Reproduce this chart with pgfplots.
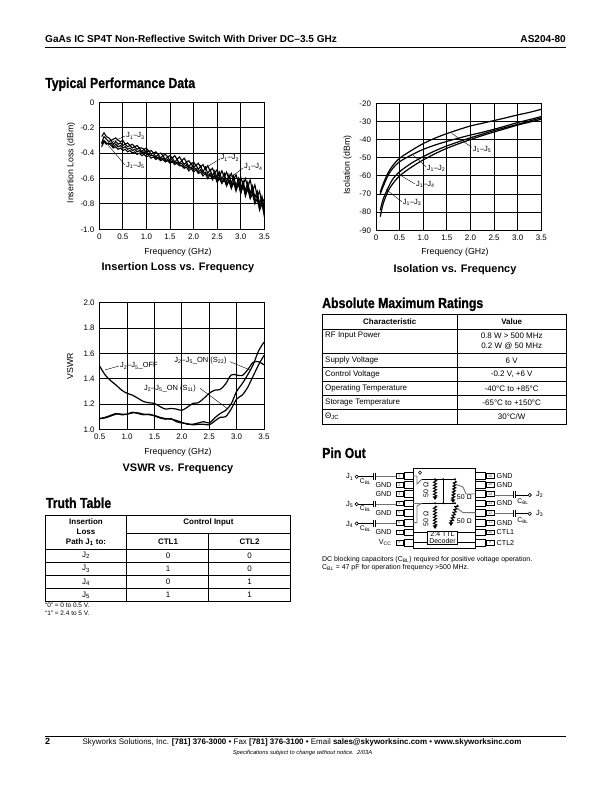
\documentclass[border=0pt]{standalone}
\usepackage{fontspec}
\usepackage{pgfplots}
\pgfplotsset{compat=1.18}
\usetikzlibrary{decorations.pathmorphing,arrows.meta}
\setmainfont{Liberation Sans}
\newfontfamily\headfont[FakeStretch=0.85,BoldFeatures={FakeBold=0.9}]{Liberation Sans}
\newcommand{\J}[2]{J\textsubscript{#1}--J\textsubscript{#2}}
\newcommand{\sz}[1]{\fontsize{#1}{#1}\selectfont}
\newcommand{\sub}[1]{\textsubscript{#1}}
\pgfplotsset{docaxis/.style={
  scale only axis, anchor=south west,
  axis line style={line width=1bp}, grid=major,
  grid style={black,line width=1bp},
  major tick length=0pt,
  tick label style={font=\sz{8}},
  xticklabel style={yshift=-1.5bp},
  yticklabel style={xshift=-1.5bp},
  axis on top=false,
  every axis plot/.append style={black,no markers},
}}
\begin{document}
\begin{tikzpicture}
\path[use as bounding box,fill=white] (0,0) rectangle (612bp,792bp);

% ---------- Insertion loss
\begin{axis}[docaxis, at={(99.3bp,562.7bp)}, width=165bp, height=127bp,
  xmin=0,xmax=3.5,ymin=-1,ymax=0,
  xtick={0,0.5,1,1.5,2,2.5,3,3.5}, xticklabels={0,0.5,1.0,1.5,2.0,2.5,3.0,3.5},
  ytick={-1,-0.8,-0.6,-0.4,-0.2,0}, yticklabels={-1.0,-0.8,-0.6,-0.4,-0.2,0}]
\addplot[line width=1.1bp] coordinates {(.05,-.27)(.1,-.24)(.15,-.27)(.2,-.28)(.25,-.30)(.3,-.29)(.35,-.28)(.4,-.30)(.45,-.31)(.5,-.30)(.55,-.33)(.6,-.32)(.65,-.34)(.7,-.33)(.75,-.35)(.8,-.34)(.85,-.36)(.9,-.36)(.95,-.37)(1.0,-.36)(1.05,-.39)(1.1,-.38)(1.15,-.40)(1.2,-.39)(1.25,-.41)(1.3,-.40)(1.35,-.42)(1.4,-.41)(1.45,-.43)(1.5,-.42)(1.55,-.44)(1.6,-.42)(1.65,-.45)(1.7,-.43)(1.75,-.46)(1.8,-.44)(1.85,-.47)(1.9,-.46)(1.95,-.49)(2.0,-.47)(2.05,-.50)(2.1,-.48)(2.15,-.51)(2.2,-.49)(2.25,-.53)(2.3,-.50)(2.35,-.54)(2.4,-.52)(2.45,-.56)(2.5,-.53)(2.55,-.58)(2.6,-.54)(2.65,-.59)(2.7,-.55)(2.75,-.60)(2.8,-.56)(2.85,-.61)(2.9,-.57)(2.95,-.63)(3.0,-.59)(3.05,-.65)(3.1,-.60)(3.15,-.67)(3.2,-.61)(3.25,-.70)(3.3,-.65)(3.35,-.74)(3.4,-.70)(3.45,-.80)(3.5,-.76)};
\addplot[line width=1.1bp] coordinates {(.05,-.32)(.1,-.27)(.15,-.29)(.2,-.31)(.25,-.30)(.3,-.33)(.35,-.31)(.4,-.33)(.45,-.32)(.5,-.34)(.55,-.33)(.6,-.35)(.65,-.34)(.7,-.36)(.75,-.35)(.8,-.37)(.85,-.36)(.9,-.39)(.95,-.37)(1.0,-.40)(1.05,-.38)(1.1,-.41)(1.15,-.40)(1.2,-.43)(1.25,-.41)(1.3,-.44)(1.35,-.42)(1.4,-.45)(1.45,-.43)(1.5,-.46)(1.55,-.44)(1.6,-.47)(1.65,-.45)(1.7,-.48)(1.75,-.46)(1.8,-.49)(1.85,-.47)(1.9,-.51)(1.95,-.48)(2.0,-.52)(2.05,-.49)(2.1,-.53)(2.15,-.50)(2.2,-.55)(2.25,-.51)(2.3,-.56)(2.35,-.53)(2.4,-.58)(2.45,-.54)(2.5,-.60)(2.55,-.55)(2.6,-.61)(2.65,-.56)(2.7,-.63)(2.75,-.57)(2.8,-.64)(2.85,-.58)(2.9,-.66)(2.95,-.60)(3.0,-.68)(3.05,-.62)(3.1,-.70)(3.15,-.63)(3.2,-.72)(3.25,-.66)(3.3,-.75)(3.35,-.70)(3.4,-.80)(3.45,-.74)(3.5,-.85)};
\addplot[line width=1.1bp] coordinates {(.05,-.33)(.1,-.30)(.15,-.32)(.2,-.33)(.25,-.32)(.3,-.35)(.35,-.33)(.4,-.35)(.45,-.34)(.5,-.36)(.55,-.35)(.6,-.37)(.65,-.36)(.7,-.38)(.75,-.37)(.8,-.39)(.85,-.38)(.9,-.40)(.95,-.39)(1.0,-.41)(1.05,-.41)(1.1,-.42)(1.15,-.42)(1.2,-.44)(1.25,-.43)(1.3,-.45)(1.35,-.44)(1.4,-.46)(1.45,-.45)(1.5,-.47)(1.55,-.46)(1.6,-.48)(1.65,-.47)(1.7,-.49)(1.75,-.48)(1.8,-.51)(1.85,-.49)(1.9,-.52)(1.95,-.51)(2.0,-.53)(2.05,-.52)(2.1,-.55)(2.15,-.53)(2.2,-.56)(2.25,-.55)(2.3,-.58)(2.35,-.56)(2.4,-.60)(2.45,-.57)(2.5,-.62)(2.55,-.58)(2.6,-.63)(2.65,-.60)(2.7,-.65)(2.75,-.61)(2.8,-.66)(2.85,-.62)(2.9,-.68)(2.95,-.63)(3.0,-.70)(3.05,-.64)(3.1,-.72)(3.15,-.66)(3.2,-.74)(3.25,-.69)(3.3,-.78)(3.35,-.73)(3.4,-.83)(3.45,-.78)(3.5,-.90)};
\addplot[line width=1.1bp] coordinates {(.05,-.35)(.1,-.31)(.15,-.33)(.2,-.32)(.25,-.34)(.3,-.36)(.35,-.35)(.4,-.37)(.45,-.36)(.5,-.38)(.55,-.37)(.6,-.39)(.65,-.38)(.7,-.40)(.75,-.39)(.8,-.41)(.85,-.40)(.9,-.42)(.95,-.41)(1.0,-.43)(1.05,-.42)(1.1,-.44)(1.15,-.43)(1.2,-.45)(1.25,-.44)(1.3,-.46)(1.35,-.45)(1.4,-.47)(1.45,-.46)(1.5,-.48)(1.55,-.47)(1.6,-.49)(1.65,-.48)(1.7,-.50)(1.75,-.50)(1.8,-.52)(1.85,-.51)(1.9,-.54)(1.95,-.52)(2.0,-.55)(2.05,-.53)(2.1,-.56)(2.15,-.55)(2.2,-.58)(2.25,-.56)(2.3,-.60)(2.35,-.57)(2.4,-.61)(2.45,-.58)(2.5,-.63)(2.55,-.60)(2.6,-.64)(2.65,-.61)(2.7,-.66)(2.75,-.62)(2.8,-.68)(2.85,-.63)(2.9,-.70)(2.95,-.64)(3.0,-.72)(3.05,-.66)(3.1,-.74)(3.15,-.68)(3.2,-.76)(3.25,-.72)(3.3,-.80)(3.35,-.76)(3.4,-.85)(3.45,-.80)(3.5,-.88)};
\end{axis}

% ---------- Isolation
\begin{axis}[docaxis, at={(376bp,561.7bp)}, width=165.3bp, height=127bp,
  xmin=0,xmax=3.5,ymin=-90,ymax=-20,
  xtick={0,0.5,1,1.5,2,2.5,3,3.5}, xticklabels={0,0.5,1.0,1.5,2.0,2.5,3.0,3.5},
  ytick={-90,-80,-70,-60,-50,-40,-30,-20}, yticklabels={-90,-80,-70,-60,-50,-40,-30,-20}]
\addplot[smooth,line width=1.2bp] coordinates {(.09,-69)(.15,-64.5)(.25,-58.6)(.35,-54.5)(.5,-50.3)(.75,-46)(1,-42.2)(1.25,-39.2)(1.5,-36.7)(1.75,-34.5)(2,-32.5)(2.25,-31)(2.5,-29.5)(2.75,-28)(3,-26.4)(3.25,-25)(3.5,-23.3)};
\addplot[smooth,line width=1.2bp] coordinates {(.09,-70)(.15,-66)(.25,-60)(.35,-56)(.5,-52.2)(.75,-48.5)(1,-45.4)(1.25,-43)(1.5,-41)(1.75,-39.2)(2,-37.5)(2.25,-36)(2.5,-34.3)(2.75,-32.5)(3,-30.6)(3.25,-29)(3.5,-27.3)};
\addplot[smooth,line width=1.2bp] coordinates {(.09,-79)(.15,-73)(.25,-66.9)(.35,-62)(.5,-57.7)(.75,-53)(1,-49.4)(1.25,-46.2)(1.5,-43.5)(1.75,-41.2)(2,-39)(2.25,-37)(2.5,-35)(2.75,-33.3)(3,-31.6)(3.25,-29.8)(3.5,-28)};
\addplot[smooth,line width=1.2bp] coordinates {(.09,-82.5)(.15,-75.5)(.25,-68.7)(.35,-64.5)(.5,-60)(.75,-55.2)(1,-51.2)(1.25,-47.8)(1.5,-44.8)(1.75,-42.3)(2,-40)(2.25,-37.8)(2.5,-35.8)(2.75,-33.9)(3,-32)(3.25,-30.4)(3.5,-28.8)};
\end{axis}

% ---------- VSWR
\begin{axis}[docaxis, at={(99.7bp,362.7bp)}, width=164.3bp, height=126.3bp,
  xmin=0.5,xmax=3.5,ymin=1,ymax=2,
  xtick={0.5,1,1.5,2,2.5,3,3.5}, xticklabels={0.5,1.0,1.5,2.0,2.5,3.0,3.5},
  ytick={1,1.2,1.4,1.6,1.8,2}, yticklabels={1.0,1.2,1.4,1.6,1.8,2.0}]
\addplot[smooth,line width=1.2bp] coordinates {(.5,1.50)(.6,1.43)(.7,1.385)(.8,1.35)(.9,1.31)(1,1.285)(1.1,1.27)(1.2,1.245)(1.3,1.22)(1.4,1.21)(1.5,1.205)(1.6,1.18)(1.7,1.16)(1.8,1.165)(1.9,1.16)(2,1.15)(2.1,1.175)(2.2,1.205)(2.3,1.21)(2.4,1.245)(2.5,1.285)(2.6,1.31)(2.7,1.315)(2.8,1.36)(2.9,1.43)(3,1.43)(3.1,1.425)(3.2,1.47)(3.3,1.53)(3.4,1.535)(3.5,1.51)};
\addplot[smooth,line width=1.2bp] coordinates {(.5,1.085)(.6,1.09)(.7,1.105)(.8,1.12)(.9,1.12)(1,1.12)(1.1,1.13)(1.2,1.13)(1.3,1.12)(1.4,1.115)(1.5,1.11)(1.6,1.095)(1.7,1.085)(1.8,1.08)(1.9,1.07)(2,1.055)(2.1,1.04)(2.2,1.04)(2.3,1.05)(2.4,1.06)(2.5,1.05)(2.6,1.09)(2.7,1.125)(2.8,1.15)(2.9,1.2)(3,1.3)(3.1,1.36)(3.2,1.43)(3.3,1.51)(3.4,1.62)(3.5,1.69)};
\addplot[smooth,line width=1.2bp] coordinates {(.5,1.085)(.6,1.095)(.7,1.11)(.8,1.125)(.9,1.115)(1,1.12)(1.1,1.135)(1.2,1.125)(1.3,1.115)(1.4,1.12)(1.5,1.105)(1.6,1.09)(1.7,1.08)(1.8,1.085)(1.9,1.06)(2,1.05)(2.1,1.045)(2.2,1.035)(2.3,1.04)(2.4,1.04)(2.5,1.035)(2.6,1.065)(2.7,1.095)(2.8,1.10)(2.9,1.16)(3,1.24)(3.1,1.27)(3.2,1.33)(3.3,1.42)(3.4,1.51)(3.5,1.585)};
\end{axis}

\begin{scope}[shift={(0bp,792bp)},x=1bp,y=-1bp]
\tikzset{lead/.style={black,line width=0.4bp},
  t/.style={inner sep=0pt,font=\sz{8}},
  gl/.style={black!55,line width=0.9bp}}
% header
\node[anchor=base west,inner sep=0pt,font=\sz{10.1}\bfseries] at (45,43) {GaAs IC SP4T Non-Reflective Switch With Driver DC--3.5 GHz};
\node[anchor=base east,inner sep=0pt,font=\sz{10.1}\bfseries] at (566,43) {AS204-80};
\draw[line width=1bp] (45,47.5) -- (566,47.5);
% section heads
\foreach \xx/\yy/\s in {45/88/Typical Performance Data,322/308/Absolute Maximum Ratings,45.7/508/Truth Table,322/458/Pin Out}
  \node[anchor=base west,inner sep=0pt,font=\sz{14.5}\headfont\bfseries] at (\xx,\yy) {\s};

% chart 1 text
\node[t,font=\sz{8.8},rotate=90] at (71,163) {Insertion Loss (dBm)};
\node[t,font=\sz{8.8}] at (178,252) {Frequency (GHz)};
\node[t,font=\sz{11}\bfseries] at (178,268) {Insertion Loss vs. Frequency};
\draw[lead] (113,141.7)--(125,136); \node[t,anchor=west,font=\sz{7.5}] at (126,136) {\J{1}{3}};
\draw[lead] (108,145)--(125,165); \node[t,anchor=west,font=\sz{7.5}] at (126,165.7) {\J{1}{5}};
\draw[lead] (205,168)--(220,159); \node[t,anchor=west,font=\sz{7.5}] at (220.5,158) {\J{1}{2}};
\draw[lead] (230,178)--(243,168); \node[t,anchor=west,font=\sz{7.5}] at (244,167) {\J{1}{4}};

% chart 2 text
\node[t,font=\sz{8.8},rotate=90] at (347.7,165) {Isolation (dBm)};
\node[t,font=\sz{8.8}] at (455,252.7) {Frequency (GHz)};
\node[t,font=\sz{11}\bfseries] at (455,269.3) {Isolation vs. Frequency};
\draw[lead] (451.7,133.3)--(471.7,147.3); \node[t,anchor=west,font=\sz{7.5}] at (472.7,149.3) {\J{1}{5}};
\draw[lead] (413,155)--(426,166.7); \node[t,anchor=west,font=\sz{7.5}] at (426.7,168.3) {\J{1}{2}};
\draw[lead] (400,175)--(415,184); \node[t,anchor=west,font=\sz{7.5}] at (416,184.3) {\J{1}{4}};
\draw[lead] (386,189.3)--(401.7,201.7); \node[t,anchor=west,font=\sz{7.5}] at (402.7,202.3) {\J{1}{3}};

% chart 3 text
\node[t,font=\sz{8.8},rotate=90] at (70,366) {VSWR};
\node[t,font=\sz{8.8}] at (178,452) {Frequency (GHz)};
\node[t,font=\sz{11}\bfseries] at (178,468.7) {VSWR vs. Frequency};
\draw[lead] (105,370)--(119,366); \node[t,anchor=west,font=\sz{7.5}] at (120,366) {J\sub{2}--J\sub{5}\_OFF};
\draw[lead] (230,361.7)--(250,370); \node[t,anchor=west,font=\sz{7.5}] at (174.3,360.7) {J\sub{2}--J\sub{5}\_ON (S\sub{22})};
\draw[lead] (200,388.3)--(228.3,409.3); \node[t,anchor=west,font=\sz{7.5}] at (144,388.3) {J\sub{2}--J\sub{5}\_ON (S\sub{11})};

% absolute maximum table
\draw[line width=0.9bp] (322.3,314.7) rectangle (566,424.3);
\draw[line width=0.9bp] (457.3,314.7)--(457.3,424.3);
\foreach \yy in {329.3,353.3,367.3,381.3,395.3,409.3} \draw[line width=0.9bp] (322.3,\yy)--(566,\yy);
\node[t,font=\sz{8}\bfseries] at (389.8,322) {Characteristic};
\node[t,font=\sz{8}\bfseries] at (511.7,322) {Value};
\foreach \yy/\a/\b in {336/RF Input Power/0.8 W > 500 MHz,
  360.3/Supply Voltage/6 V,374.3/Control Voltage/{-0.2 V, +6 V},
  388.3/Operating Temperature/-40\textdegree C to +85\textdegree C,
  402.3/Storage Temperature/-65\textdegree C to +150\textdegree C}{
  \node[t,anchor=west] at (325,\yy) {\a};
  \node[t] at (511.7,\yy) {\b};}
\node[t] at (511.7,346) {0.2 W @ 50 MHz};
\node[t,anchor=west] at (325,416.5) {\char"0398\sub{JC}};
\node[t] at (511.7,416.5) {30\textdegree C/W};

% truth table
\draw[line width=0.9bp] (45.3,515) rectangle (290.7,601.3);
\draw[line width=0.9bp] (126.7,515)--(126.7,601.3);
\draw[line width=0.9bp] (208.3,533.3)--(208.3,601.3);
\draw[line width=0.9bp] (126.7,533.3)--(290.7,533.3);
\foreach \yy in {549.3,562.7,575.3,588.3} \draw[line width=0.9bp] (45.3,\yy)--(290.7,\yy);
\node[t,font=\sz{8}\bfseries] at (86,522) {Insertion};
\node[t,font=\sz{8}\bfseries] at (86,532) {Loss};
\node[t,font=\sz{8}\bfseries] at (86,542) {Path J\sub{1} to:};
\node[t,font=\sz{8}\bfseries] at (208.5,522.5) {Control Input};
\node[t,font=\sz{8}\bfseries] at (168,542) {CTL1};
\node[t,font=\sz{8}\bfseries] at (249.5,542) {CTL2};
\foreach \yy/\a/\b/\c in {555.5/J\sub{2}/0/0,569/J\sub{3}/1/0,582/J\sub{4}/0/1,595/J\sub{5}/1/1}{
  \node[t] at (86,\yy) {\a}; \node[t] at (168,\yy) {\b}; \node[t] at (249.5,\yy) {\c};}
\node[t,anchor=west,font=\sz{6.5}] at (45,605.3) {``0'' = 0 to 0.5 V.};
\node[t,anchor=west,font=\sz{6.5}] at (45,613.3) {``1'' = 2.4 to 5 V.};

% pin out
\draw[line width=1.1bp] (413.3,468.7) rectangle (475.7,548.3);
\foreach \yy/\l/\r in {476/1/16,484.7/2/15,494/3/14,503.3/4/13,512.7/5/12,522.7/6/11,532.3/7/10,542.7/8/9}{
  \draw[line width=0.8bp] (404.3,\yy-3.3) rectangle (413.3,\yy+3.3);
  \draw[line width=0.6bp] (396,\yy-2.3) rectangle (403,\yy+2.3);
  \draw[line width=0.8bp] (475.7,\yy-3.3) rectangle (485,\yy+3.3);
  \draw[line width=0.6bp] (486.5,\yy-2.3) rectangle (494,\yy+2.3);
  \node[t,font=\sz{3.8},black!70] at (399.5,\yy) {\l};
  \node[t,font=\sz{3.8},black!70] at (490.2,\yy) {\r};
}
% left labels
\foreach \yy/\s in {484.7/GND,494/GND,512.7/GND,532.3/GND} \node[t,anchor=east,font=\sz{7.2}] at (391.7,\yy) {\s};
\node[t,anchor=east,font=\sz{7.2}] at (391.7,543) {V\sub{CC}};
\foreach \yy/\n/\ya in {476/1/477,503.3/5/504.8,522.7/4/524.3}{
  \node[t,anchor=east,font=\sz{7.5}] at (353.5,\ya) {J\sub{\n}};
  \draw[line width=0.6bp] (356.7,\yy+.8) circle (1.7);
  \draw[line width=0.6bp] (358.4,\yy+.8)--(373,\yy+.8);
  \draw[line width=0.7bp] (373.3,\yy-2.5)--(373.3,\yy+4) (375.7,\yy-2.5)--(375.7,\yy+4);
  \draw[gl] (375.7,\yy+.8)--(395.5,\yy+.8);
  \node[t,font=\sz{6.8}] at (365.5,\yy+5.5) {C\sub{BL}};
}
% right labels
\foreach \yy/\s in {476/GND,484.7/GND,503.3/GND,522.7/GND,532.3/CTL1,542.7/CTL2} \node[t,anchor=west,font=\sz{7.2}] at (496.5,\yy) {\s};
\foreach \yy/\n in {494/2,512.7/3}{
  \draw[gl] (494,\yy+1)--(512.5,\yy+1);
  \draw[line width=0.7bp] (513,\yy-2.5)--(513,\yy+4.5) (515.3,\yy-2.5)--(515.3,\yy+4.5);
  \draw[line width=0.6bp] (515.3,\yy+1)--(528,\yy+1);
  \draw[line width=0.6bp] (529.7,\yy+1) circle (1.7);
  \node[t,anchor=west,font=\sz{7.5}] at (536,\yy+.5) {J\sub{\n}};
  \node[t,font=\sz{6.8}] at (523,\yy+7.5) {C\sub{BL}};
}
% internals
\draw[line width=0.5bp] (420,471)--(421.5,472.7)--(420,474.4)--(418.5,472.7)--cycle;
\draw[line width=0.8bp] (421.7,479.3)--(455,479.3);
\draw[line width=0.8bp] (421.7,503.3)--(455,503.3);
\draw[gl] (413.3,476)--(417,476)--(417,481) (417,481)--(417,484)--(421.7,479.3);
\draw[gl] (413.3,503.3)--(421.7,503.3);
\draw[gl] (413.3,522.7)--(417,522.7)--(417,506)--(421.7,503.3);
\draw[line width=0.8bp] (443.3,479.3)--(443.3,503.3);
\fill (443.3,479.3) circle (1.1) (443.3,503.3) circle (1.1) (435,479.3) circle (1.1) (435,503.3) circle (1.1) (455,479.3) circle (1.1) (455,503.3) circle (1.1);
\foreach \xa/\xb/\ya/\yb in {435/435/480/497,435/435/506/526,455/453/481/500,457/451/505/523}{
  \draw[line width=1.1bp,decorate,decoration={zigzag,segment length=3bp,amplitude=1.4bp}] (\xa,\ya)--(\xb,\yb);
  \fill (\xb-2.3,\yb-.5)--(\xb+2.3,\yb-.5)--(\xb,\yb+3)--cycle;
}
\draw[gl] (455,484)--(463,487)--(466,494)--(475.7,494);
\draw[gl] (457,508)--(463,512.7)--(475.7,512.7);
\node[t,font=\sz{7},rotate=90] at (426,490) {50 \char"03A9};
\node[t,font=\sz{7},rotate=90] at (426,519) {50 \char"03A9};
\node[t,anchor=west,font=\sz{7}] at (456.7,497.3) {50 \char"03A9};
\node[t,anchor=west,font=\sz{7}] at (456.7,520.7) {50 \char"03A9};
\draw[line width=0.8bp,fill=white] (427.3,531) rectangle (457.7,544.3);
\draw[line width=0.8bp] (413.3,532.3)--(427.3,532.3) (457.7,532.3)--(475.7,532.3);
\draw[line width=0.8bp] (413.3,542.7)--(427.3,542.7) (457.7,542.7)--(475.7,542.7);
\node[t,font=\sz{7}] at (442.5,534.5) {2:4 TTL};
\node[t,font=\sz{7}] at (442.5,540.8) {Decoder};
\node[t,anchor=west,font=\sz{7}] at (322,559.3) {DC blocking capacitors (C\sub{BL}) required for positive voltage operation.};
\node[t,anchor=west,font=\sz{7}] at (322,567.7) {C\sub{BL} = 47 pF for operation frequency >500 MHz.};

% footer
\draw[line width=1bp] (45,736.3)--(566,736.3);
\node[anchor=base west,inner sep=0pt,font=\sz{9}\bfseries] at (45,745) {2};
\node[anchor=base,inner sep=0pt,font=\sz{8}] at (302,745) {Skyworks Solutions, Inc. \textbf{[781] 376-3000} • Fax \textbf{[781] 376-3100} • Email \textbf{sales@skyworksinc.com} • \textbf{www.skyworksinc.com}};
\node[anchor=base,inner sep=0pt,font=\sz{5.8}\itshape] at (302.5,755) {Specifications subject to change without notice.\ \ 2/03A};
\end{scope}
\end{tikzpicture}
\end{document}
